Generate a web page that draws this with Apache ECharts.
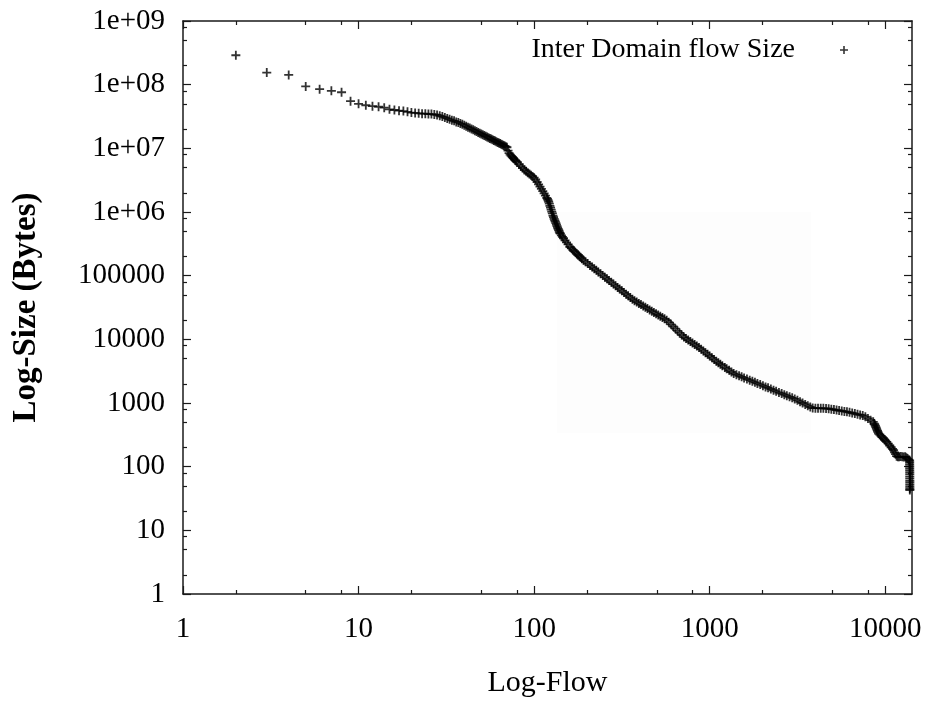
<!DOCTYPE html>
<html>
<head>
<meta charset="utf-8">
<script src="https://cdn.jsdelivr.net/npm/echarts@6/dist/echarts.min.js"></script>
<style>
html, body { margin: 0; padding: 0; background: #fff; }
#chart { width: 926px; height: 704px; }
</style>
</head>
<body>
<div id="chart"></div>
<script>
// flow rank (x) and flow size in bytes (y)
var ranks = [2, 3, 4, 5, 6, 7, 8, 9, 10, 11, 12, 13, 14, 15, 16, 17, 18, 19, 20, 21, 22, 23, 24, 25, 26, 27, 28, 29, 30,
	31, 32, 33, 34, 35, 36, 37, 38, 39, 40, 41, 42, 43, 44, 45, 46, 47, 48, 49, 50, 51, 52, 53, 54, 55, 56, 57, 58, 59,
	60, 61, 62, 63, 64, 65, 66, 67, 68, 69, 70, 71, 72, 73, 74, 75, 76, 77, 78, 79, 80, 82, 84, 86, 88, 90, 92, 94, 96,
	98, 100, 102, 104, 106, 108, 110, 112, 114, 116, 118, 119, 120, 121, 122, 123, 124, 125, 126, 127, 128, 129, 130,
	131, 132, 133, 134, 135, 136, 137, 138, 139, 140, 141, 143, 145, 147, 150, 153, 156, 160, 163, 166, 169, 172, 175,
	178, 181, 184, 187, 191, 196, 202, 208, 214, 220, 226, 232, 239, 246, 253, 260, 267, 275, 283, 291, 299, 307, 316,
	325, 334, 343, 353, 363, 373, 384, 395, 406, 418, 430, 442, 455, 468, 481, 495, 509, 523, 538, 553, 569, 585, 602,
	619, 637, 655, 674, 693, 713, 733, 754, 776, 798, 821, 845, 869, 894, 920, 946, 973, 1000, 1030, 1060, 1090, 1120,
	1150, 1180, 1220, 1250, 1290, 1330, 1370, 1420, 1470, 1520, 1570, 1630, 1690, 1750, 1810, 1870, 1940, 2010, 2080,
	2150, 2230, 2310, 2390, 2480, 2570, 2660, 2750, 2850, 2950, 3050, 3160, 3270, 3380, 3500, 3620, 3740, 3860, 4000,
	4140, 4290, 4440, 4600, 4760, 4930, 5100, 5280, 5460, 5650, 5850, 6050, 6260, 6480, 6710, 6950, 7190, 7440, 7700,
	7970, 8250, 8540, 8660, 8720, 8780, 8840, 8900, 8960, 9030, 9090, 9160, 9300, 9450, 9600, 9750, 9900, 10050, 10200,
	10400, 10600, 10800, 11000, 11150, 11300, 11450, 11600, 11800, 12000, 12250, 12500, 12750, 13000, 13200, 13400,
	13600, 13760, 13770, 13770, 13780, 13780, 13780, 13790, 13790, 13790, 13790, 13800, 13800, 13800, 13800, 13800, 13800];
var sizes = [2.9e8, 1.55e8, 1.42e8, 9.4e7, 8.5e7, 8.0e7, 7.6e7, 5.5e7, 5.0e7, 4.75e7, 4.6e7, 4.5e7, 4.35e7, 4.1e7,
	4.0e7, 3.9e7, 3.85e7, 3.75e7, 3.65e7, 3.6e7, 3.55e7, 3.5e7, 3.5e7, 3.45e7, 3.45e7, 3.4e7, 3.35e7, 3.25e7, 3.15e7,
	3.05e7, 2.95e7, 2.85e7, 2.75e7, 2.7e7, 2.6e7, 2.55e7, 2.45e7, 2.4e7, 2.3e7, 2.22e7, 2.15e7, 2.08e7, 2.01e7, 1.95e7,
	1.89e7, 1.83e7, 1.78e7, 1.73e7, 1.68e7, 1.63e7, 1.59e7, 1.55e7, 1.51e7, 1.47e7, 1.43e7, 1.40e7, 1.36e7, 1.33e7,
	1.30e7, 1.27e7, 1.24e7, 1.21e7, 1.19e7, 1.16e7, 1.14e7, 1.11e7, 1.09e7, 1.06e7, 1.04e7, 9.2e6, 8.4e6, 7.98e6,
	7.59e6, 7.33e6, 7.05e6, 6.79e6, 6.53e6, 6.30e6, 6.07e6, 5.64e6, 5.26e6, 4.91e6, 4.57e6, 4.36e6, 4.15e6, 3.96e6,
	3.78e6, 3.62e6, 3.46e6, 3.24e6, 2.96e6, 2.72e6, 2.51e6, 2.31e6, 2.12e6, 1.96e6, 1.81e6, 1.67e6, 1.61e6, 1.53e6,
	1.45e6, 1.35e6, 1.25e6, 1.17e6, 1.09e6, 1.01e6, 9.5e5, 8.8e5, 8.3e5, 7.8e5, 7.4e5, 7.05e5, 6.7e5, 6.35e5, 6.0e5,
	5.7e5, 5.45e5, 5.2e5, 4.94e5, 4.7e5, 4.57e5, 4.3e5, 4.07e5, 3.87e5, 3.59e5, 3.33e5, 3.1e5, 2.82e5, 2.69e5, 2.55e5,
	2.43e5, 2.32e5, 2.21e5, 2.11e5, 2.02e5, 1.93e5, 1.85e5, 1.75e5, 1.65e5, 1.55e5, 1.45e5, 1.365e5, 1.285e5, 1.213e5,
	1.146e5, 1.074e5, 1.007e5, 9.46e4, 8.91e4, 8.39e4, 7.87e4, 7.38e4, 6.93e4, 6.53e4, 6.17e4, 5.78e4, 5.43e4, 5.12e4,
	4.82e4, 4.52e4, 4.26e4, 4.04e4, 3.85e4, 3.67e4, 3.51e4, 3.34e4, 3.19e4, 3.05e4, 2.90e4, 2.77e4, 2.65e4, 2.52e4,
	2.41e4, 2.31e4, 2.20e4, 2.10e4, 2.00e4, 1.86e4, 1.72e4, 1.59e4, 1.47e4, 1.36e4, 1.26e4, 1.17e4, 1.087e4, 1.03e4,
	9750, 9230, 8750, 8280, 7830, 7430, 7000, 6580, 6180, 5810, 5470, 5130, 4810, 4520, 4280, 4060, 3860, 3620, 3460,
	3260, 3070, 2900, 2790, 2680, 2580, 2480, 2380, 2280, 2190, 2110, 2030, 1950, 1870, 1790, 1730, 1660, 1585, 1525,
	1460, 1410, 1350, 1300, 1250, 1205, 1157, 1100, 1047, 1000, 951, 908, 865, 832, 830, 828, 826, 824, 822, 813, 800,
	787, 774, 762, 750, 738, 728, 713, 697, 681, 665, 650, 637, 607, 571, 538, 506, 476, 456, 436, 417, 400, 383, 364,
	349, 331, 318, 304, 291, 279, 267, 256, 246, 230, 215, 202, 190, 181, 168, 157, 146, 143, 143, 144, 143, 142, 143,
	138, 134, 129, 126, 118, 110, 102, 95, 88, 82, 76, 70, 65, 60, 56, 52, 48, 45, 43];

var xTickLabels = ['1', '10', '100', '1000', '10000'];
var yTickLabels = ['1', '10', '100', '1000', '10000', '100000', '1e+06', '1e+07', '1e+08', '1e+09'];
var minorSteps = [2, 5, 8];

var points = ranks.map(function(r, i) { return [r, sizes[i]]; });
var plus = 'path://M4.8,0H7.2V4.8H12V7.2H7.2V12H4.8V7.2H0V4.8H4.8Z';
var font = 'Liberation Serif';

function majors(labels) {
	return labels.map(function(l, i) { return Math.pow(10, i); });
}
function minors(labels, max) {
	var out = [];
	for (var d = 0; d < labels.length; d++) {
		minorSteps.forEach(function(s) {
			var v = s * Math.pow(10, d);
			if (v < max) out.push(v);
		});
	}
	return out;
}

var xMax = 14200, yMax = 1e9;
var lineStyle = { color: '#1a1a1a', width: 1.5 };

function axis(kind, opt) {
	var isX = kind === 'x';
	var labels = isX ? xTickLabels : yTickLabels;
	var minor = opt.minor;
	var a = {
		type: 'log',
		gridIndex: minor ? 1 : 0,
		min: 1,
		max: isX ? xMax : yMax,
		position: opt.position,
		axisLine: { show: !minor, lineStyle: lineStyle },
		axisTick: {
			show: true, inside: true, length: minor ? 4 : 8,
			customValues: minor ? minors(labels, isX ? xMax : yMax) : majors(labels),
			lineStyle: { color: '#1a1a1a', width: 1.2 }
		},
		axisLabel: { show: false },
		splitLine: { show: false }
	};
	if (opt.labels) {
		a.axisLabel = {
			show: true,
			customValues: majors(labels),
			formatter: function(v) { return labels[Math.round(Math.log10(v))]; },
			fontFamily: font, fontSize: 29, color: '#000',
			margin: isX ? 21 : 18
		};
	}
	return a;
}

var xAxes = [
	axis('x', { position: 'bottom', labels: true }),
	axis('x', { position: 'top' }),
	axis('x', { position: 'bottom', minor: true }),
	axis('x', { position: 'top', minor: true })
];
xAxes[0].name = 'Log-Flow';
xAxes[0].nameLocation = 'middle';
xAxes[0].nameGap = 74;
xAxes[0].nameTextStyle = { fontFamily: font, fontSize: 30, color: '#000' };

var yAxes = [
	axis('y', { position: 'left', labels: true }),
	axis('y', { position: 'right' }),
	axis('y', { position: 'left', minor: true }),
	axis('y', { position: 'right', minor: true })
];
yAxes[0].name = 'Log-Size (Bytes)';
yAxes[0].nameLocation = 'middle';
yAxes[0].nameGap = 140;
yAxes[0].nameTextStyle = { fontFamily: font, fontSize: 33, fontWeight: 'bold', color: '#000' };

var chart = echarts.init(document.getElementById('chart'));
chart.setOption({
	animation: false,
	backgroundColor: '#fff',
	grid: [
		{ left: 183, right: 14, top: 21, bottom: 110 },
		{ left: 183, right: 14, top: 21, bottom: 110 }
	],
	graphic: [{
		type: 'rect', silent: true, z: -1,
		shape: { x: 557, y: 212, width: 254, height: 221 },
		style: { fill: '#fdfdfd' }
	}],
	xAxis: xAxes,
	yAxis: yAxes,
	legend: {
		data: ['Inter Domain flow Size'],
		right: 73,
		top: 31,
		align: 'right',
		icon: plus,
		itemWidth: 8,
		itemHeight: 8,
		textStyle: { fontFamily: font, fontSize: 28, color: '#000', padding: [0, 40, 0, 0] }
	},
	series: [{
		type: 'scatter',
		name: 'Inter Domain flow Size',
		xAxisIndex: 0,
		yAxisIndex: 0,
		symbol: plus,
		symbolSize: 9,
		itemStyle: { color: '#000' },
		data: points
	}]
});
</script>
</body>
</html>
